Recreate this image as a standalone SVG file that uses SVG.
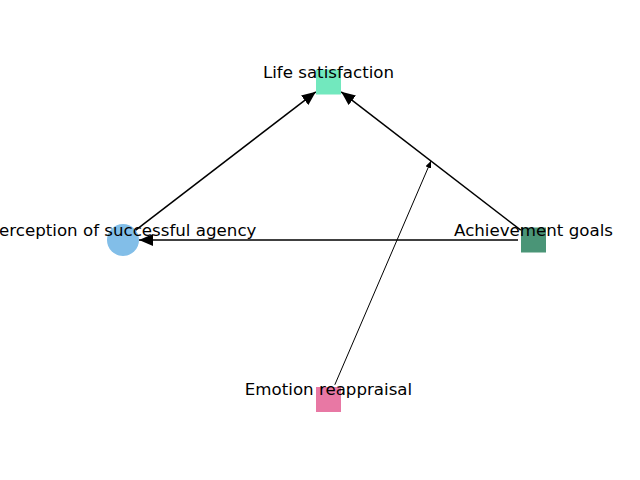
<svg xmlns="http://www.w3.org/2000/svg" width="640" height="480" viewBox="0 0 640 480">
<style>
.e{stroke:#000;stroke-width:1.5;fill:none}
.t{font-family:"DejaVu Sans",sans-serif;font-size:16.67px;fill:#000;text-anchor:middle}
</style>
<defs>
<marker id="ah" viewBox="0 0 14 12" refX="14" refY="6" markerWidth="14" markerHeight="12" markerUnits="userSpaceOnUse" orient="auto">
<path d="M0,0 L14,6 L0,12 Z" fill="#000"/>
</marker>
<marker id="as" viewBox="0 0 7 6" refX="7" refY="3" markerWidth="7" markerHeight="6" markerUnits="userSpaceOnUse" orient="auto">
<path d="M0,0 L7,3 L0,6 Z" fill="#000"/>
</marker>
</defs>
<rect width="640" height="480" fill="#fff"/>
<g id="edges">
<line class="e" x1="135.7" y1="230.2" x2="315.8" y2="91.8" marker-end="url(#ah)"/>
<line class="e" x1="520.8" y1="230.2" x2="341.2" y2="91.8" marker-end="url(#ah)"/>
<line class="e" x1="518" y1="240" x2="139" y2="240" marker-end="url(#ah)"/>
<line class="e" style="stroke-width:1" x1="334.8" y1="384.8" x2="431" y2="161" marker-end="url(#as)"/>
</g>
<g id="life">
<rect x="316" y="69.5" width="25" height="25" fill="#72E8BE"/>
<text class="t" x="328.5" y="78">Life satisfaction</text>
</g>
<g id="perception">
<circle cx="123" cy="240" r="16" fill="#82BEE8"/>
<text class="t" x="123" y="235.5">Perception of successful agency</text>
</g>
<g id="achievement">
<rect x="521" y="227.5" width="25" height="25" fill="#4A9577"/>
<text class="t" x="533.5" y="235.5">Achievement goals</text>
</g>
<g id="emotion">
<rect x="316" y="387" width="25" height="25" fill="#E878A4"/>
<text class="t" x="328.5" y="395">Emotion reappraisal</text>
</g>
</svg>
